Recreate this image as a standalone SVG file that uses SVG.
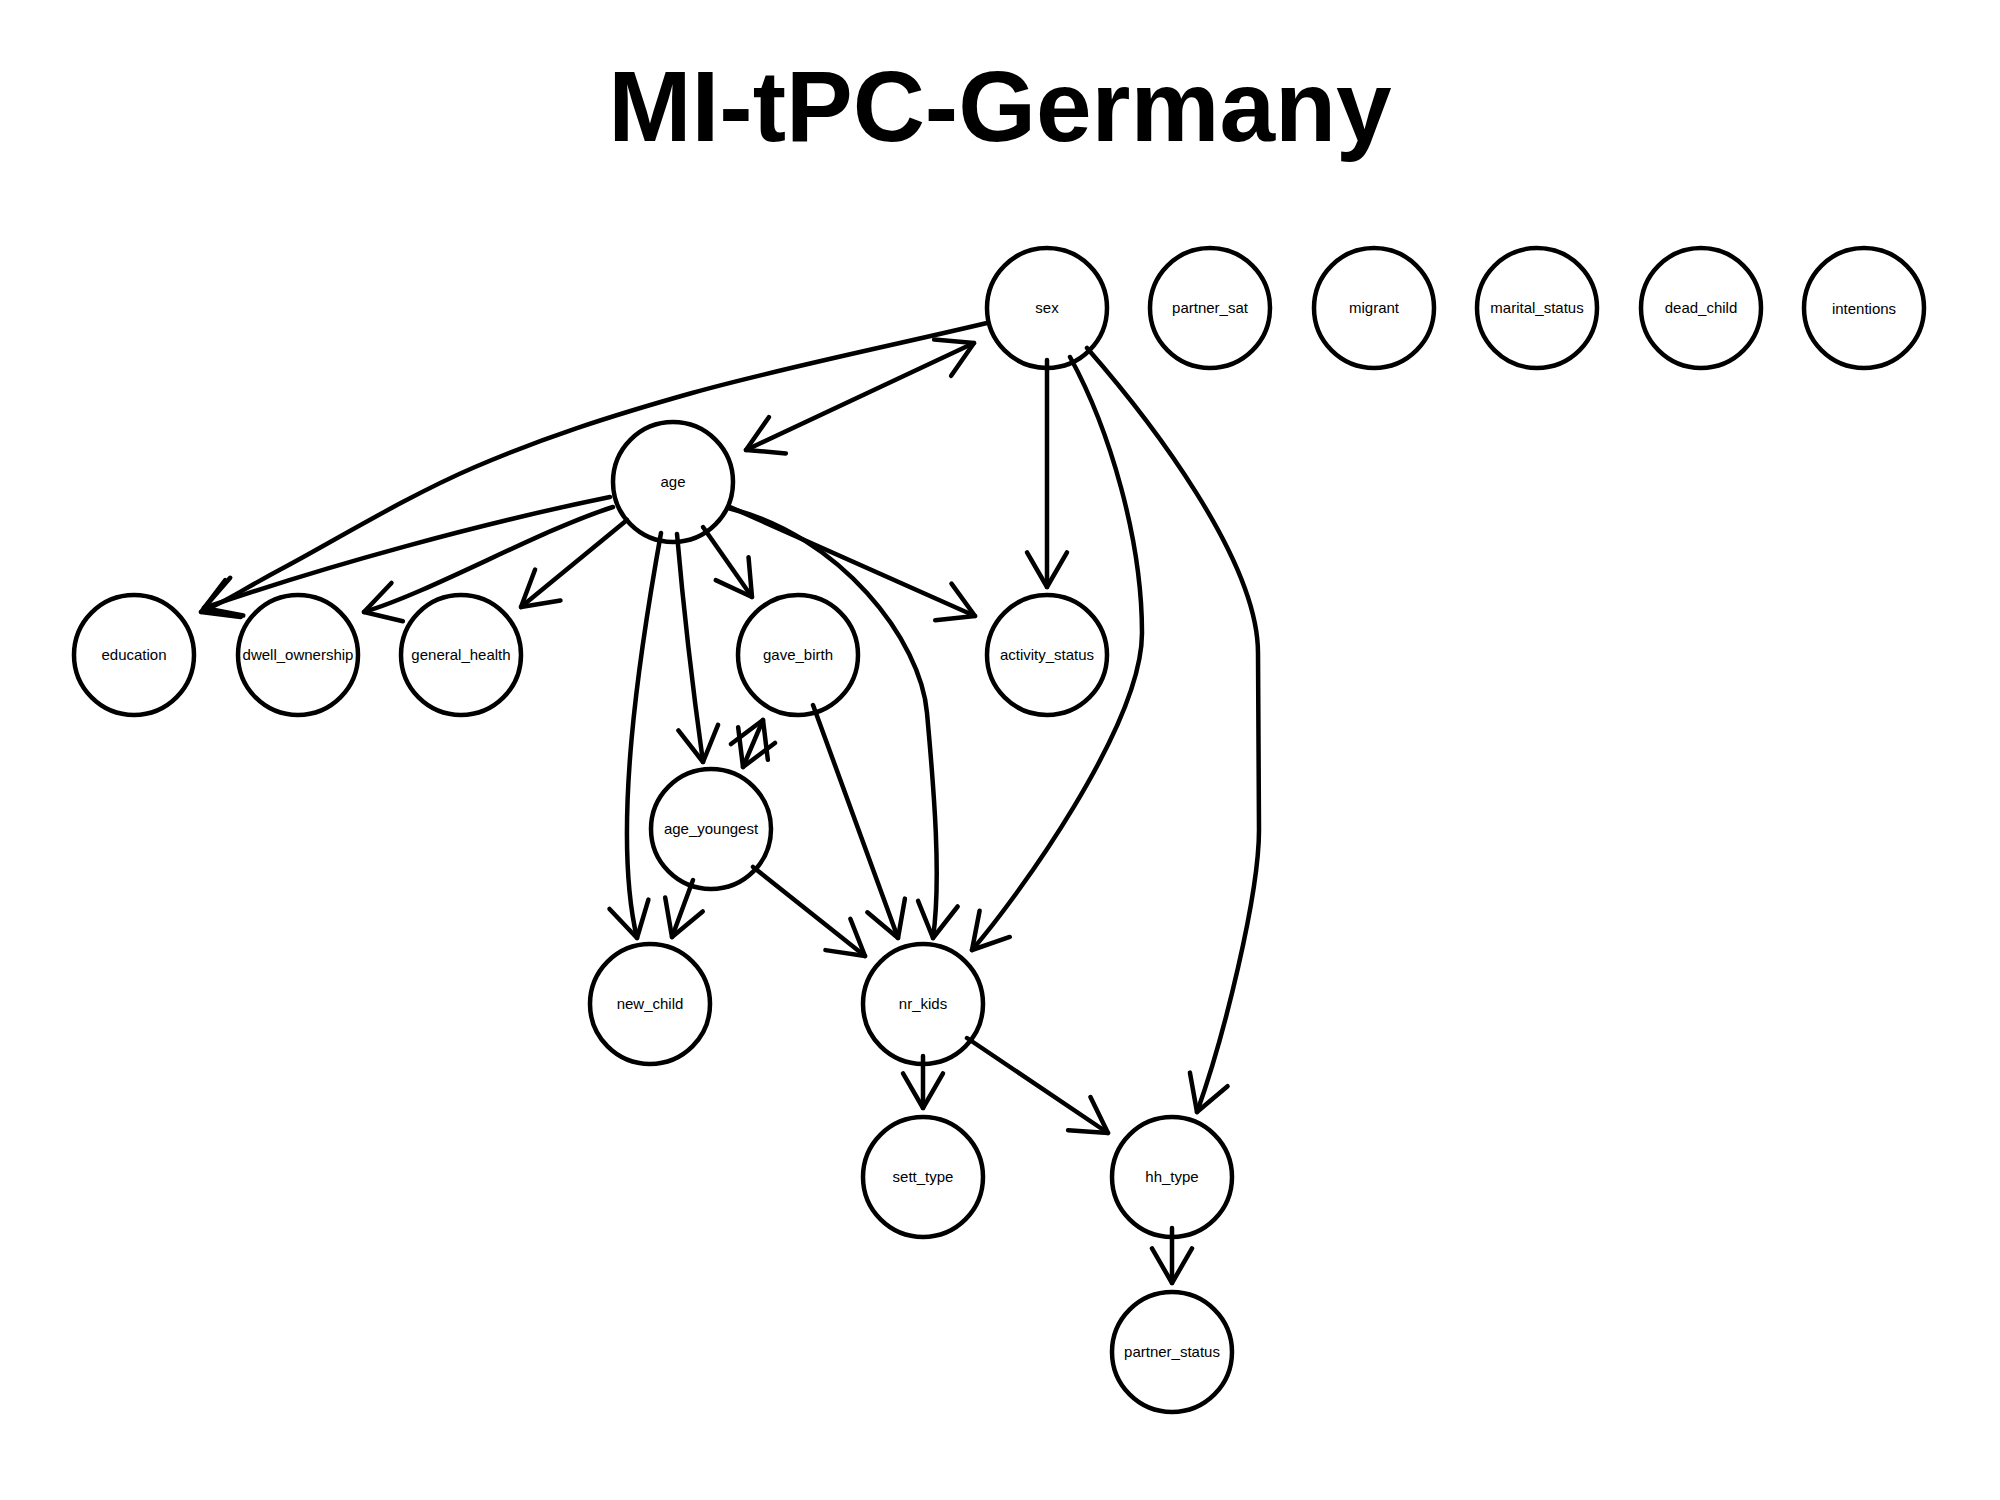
<svg xmlns="http://www.w3.org/2000/svg" width="2000" height="1500" viewBox="0 0 2000 1500">
<style>
  .node circle { fill: #fff; stroke: #000; stroke-width: 4.5; }
  .node text { font-family: "Liberation Sans", Arial, sans-serif; font-size: 15px; text-anchor: middle; fill: #000; }
  .title { font-family: "Liberation Sans", Arial, sans-serif; font-size: 100px; font-weight: bold; text-anchor: middle; fill: #000; }
  .edges path { fill: none; stroke: #000; stroke-width: 4.5; stroke-linecap: round; marker-end: url(#arr); }
  .edges path.bi { marker-start: url(#arr); }
</style>
<defs>
  <marker id="arr" markerUnits="userSpaceOnUse" viewBox="-40 -25 45 50" refX="0" refY="0" markerWidth="45" markerHeight="50" orient="auto-start-reverse" overflow="visible">
    <path d="M-34.64,-20 L0,0 L-34.64,20" fill="none" stroke="#000" stroke-width="4.5" stroke-linecap="round" stroke-linejoin="round"/>
  </marker>
</defs>
<rect width="2000" height="1500" fill="#fff"/>
<text class="title" x="1000" y="141">MI-tPC-Germany</text>

<g id="nodes">
  <g id="sex" class="node"><circle cx="1047" cy="308" r="60"/><text x="1047" y="313">sex</text></g>
  <g id="partner_sat" class="node"><circle cx="1210" cy="308" r="60"/><text x="1210" y="313">partner_sat</text></g>
  <g id="migrant" class="node"><circle cx="1374" cy="308" r="60"/><text x="1374" y="313">migrant</text></g>
  <g id="marital_status" class="node"><circle cx="1537" cy="308" r="60"/><text x="1537" y="313">marital_status</text></g>
  <g id="dead_child" class="node"><circle cx="1701" cy="308" r="60"/><text x="1701" y="313">dead_child</text></g>
  <g id="intentions" class="node"><circle cx="1864" cy="308" r="60"/><text x="1864" y="314">intentions</text></g>
  <g id="age" class="node"><circle cx="673" cy="482" r="60"/><text x="673" y="487">age</text></g>
  <g id="education" class="node"><circle cx="134" cy="655" r="60"/><text x="134" y="660">education</text></g>
  <g id="dwell_ownership" class="node"><circle cx="298" cy="655" r="60"/><text x="298" y="660">dwell_ownership</text></g>
  <g id="general_health" class="node"><circle cx="461" cy="655" r="60"/><text x="461" y="660">general_health</text></g>
  <g id="gave_birth" class="node"><circle cx="798" cy="655" r="60"/><text x="798" y="660">gave_birth</text></g>
  <g id="activity_status" class="node"><circle cx="1047" cy="655" r="60"/><text x="1047" y="660">activity_status</text></g>
  <g id="age_youngest" class="node"><circle cx="711" cy="829" r="60"/><text x="711" y="834">age_youngest</text></g>
  <g id="new_child" class="node"><circle cx="650" cy="1004" r="60"/><text x="650" y="1009">new_child</text></g>
  <g id="nr_kids" class="node"><circle cx="923" cy="1004" r="60"/><text x="923" y="1009">nr_kids</text></g>
  <g id="sett_type" class="node"><circle cx="923" cy="1177" r="60"/><text x="923" y="1182">sett_type</text></g>
  <g id="hh_type" class="node"><circle cx="1172" cy="1177" r="60"/><text x="1172" y="1182">hh_type</text></g>
  <g id="partner_status" class="node"><circle cx="1172" cy="1352" r="60"/><text x="1172" y="1357">partner_status</text></g>
</g>

<g id="edges" class="edges">
  <path id="e_sex_age" class="bi" d="M974,343 L746,450"/>
  <path id="e_sex_education" d="M987,323 C888.7,346.3 777.3,369 692,393 C606.7,417 542.8,438 475,467 C407.2,496 330.7,542.8 285,567 C239.3,591.2 226.8,601.2 201,612"/>
  <path id="e_age_education" d="M610,497 C482.6,523 326.9,565.5 204,608"/>
  <path id="e_age_dwell_ownership" d="M613,507 C540,530 431,592 364,612"/>
  <path id="e_age_general_health" d="M627,520 L521,607"/>
  <path id="e_age_new_child" d="M661,533 C640,650 611.5,831 637,938"/>
  <path id="e_age_age_youngest" d="M677,534 Q686.4,643 703,762"/>
  <path id="e_age_gave_birth" d="M703,527 L752,597"/>
  <path id="e_age_activity_status" d="M730,507 L975,616"/>
  <path id="e_age_nr_kids" d="M728,508 C840,535 921,640 927,713 C934,790 941.4,878.6 933,938"/>
  <path id="e_sex_activity_status" d="M1047,360 L1047,587"/>
  <path id="e_sex_nr_kids" d="M1070,357 C1110,430 1142,540 1142,633 C1142,725 1018,897 972,950"/>
  <path id="e_sex_hh_type" d="M1087,348 C1150,420 1258,560 1258,653 L1259,830 C1259,895 1224,1037 1197,1112"/>
  <path id="e_gave_birth_nr_kids" d="M813,705 L898,938"/>
  <path id="e_age_youngest_gave_birth" class="bi" d="M743,767 L763,720"/>
  <path id="e_age_youngest_new_child" d="M693,880 L672,937"/>
  <path id="e_age_youngest_nr_kids" d="M753,867 L865,956"/>
  <path id="e_nr_kids_sett_type" d="M923,1056 L923,1108"/>
  <path id="e_nr_kids_hh_type" d="M967,1038 L1108,1133"/>
  <path id="e_hh_type_partner_status" d="M1172,1228 L1172,1283"/>
</g>
</svg>
